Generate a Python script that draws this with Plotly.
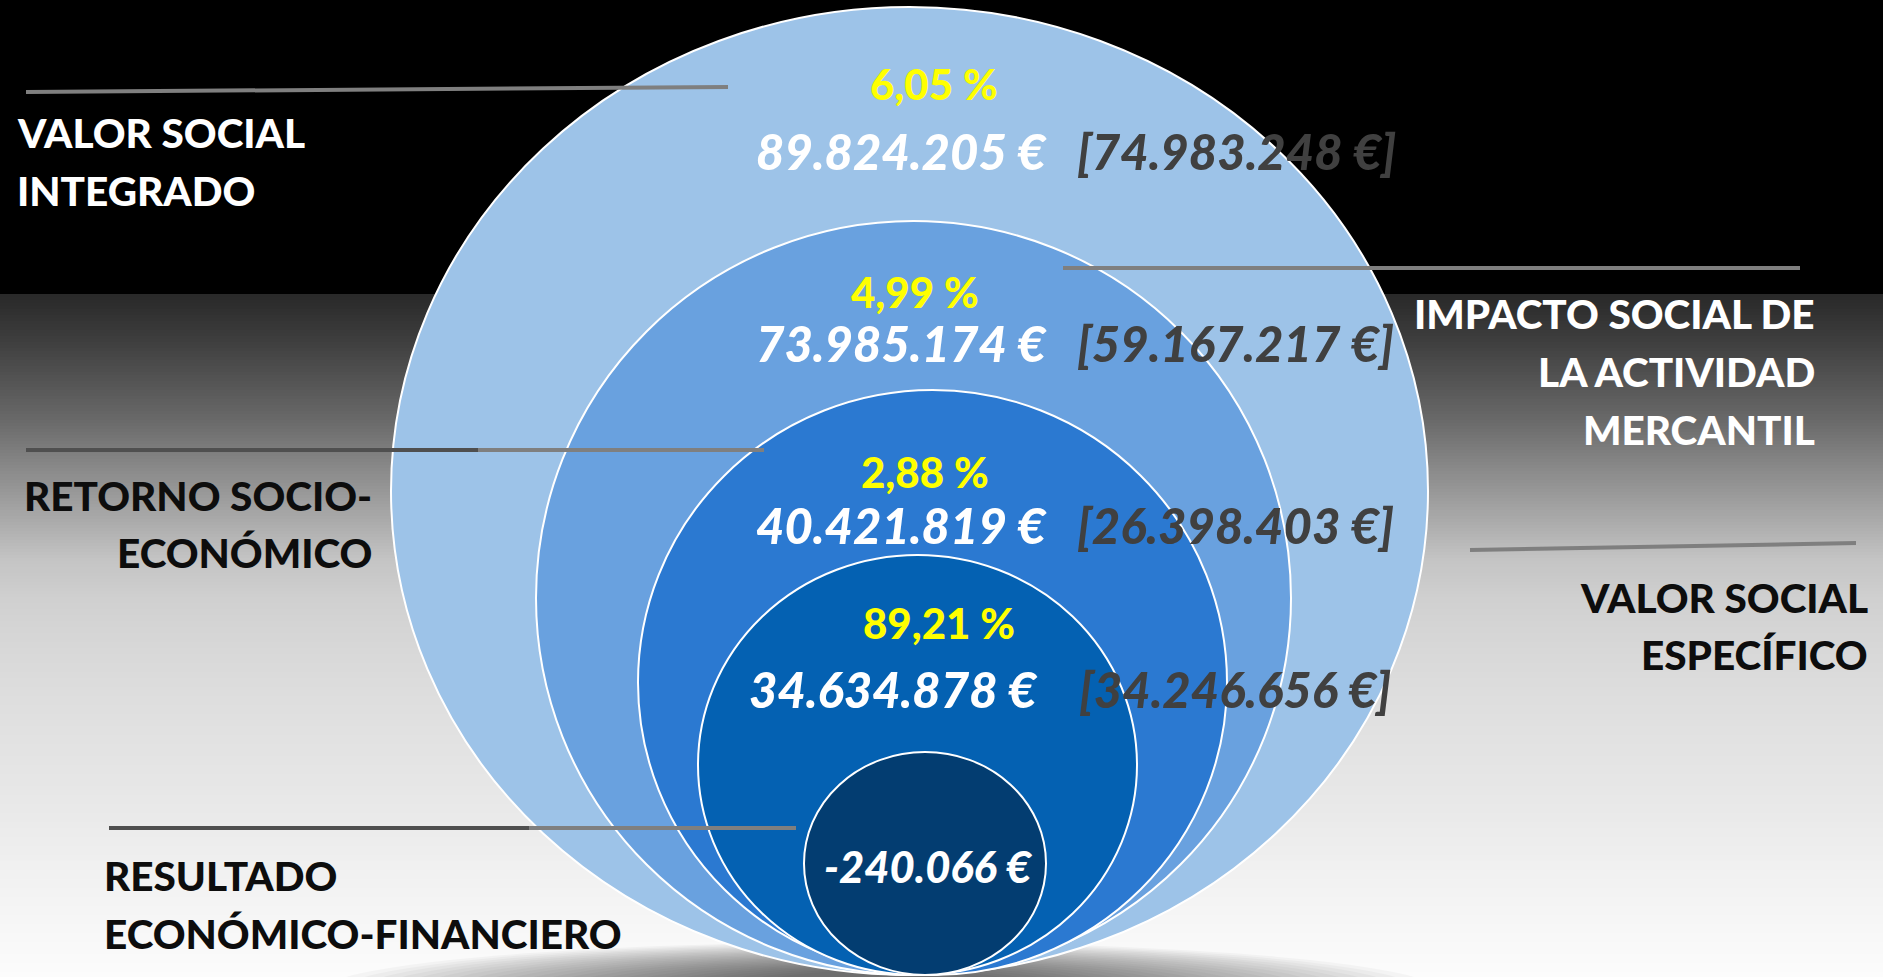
import plotly.graph_objects as go

# ---------------- DATA ----------------
level_names = [
    ["VALOR SOCIAL", "INTEGRADO"],
    ["IMPACTO SOCIAL DE", "LA ACTIVIDAD", "MERCANTIL"],
    ["RETORNO SOCIO-", "ECONÓMICO"],
    ["VALOR SOCIAL", "ESPECÍFICO"],
    ["RESULTADO", "ECONÓMICO-FINANCIERO"],
]
values_eur = [89824205, 73985174, 40421819, 34634878, -240066]
bracket_eur = [74983248, 59167217, 26398403, 34246656]
percentages = [6.05, 4.99, 2.88, 89.21]


def fmt_eur(v):
    s = f"{abs(v):,}".replace(",", ".")
    return ("-" if v < 0 else "") + s + " €"


def fmt_pct(p):
    return f"{p:.2f}".replace(".", ",") + " %"


# ---------------- LAYOUT / STYLE ----------------
W, H = 1883, 977
FONT = "Lato"
WEIGHT = 900

# nested ellipses (outer -> inner): x0, y0, x1, y1 in canvas coordinates
ellipse_boxes = [
    (391, 7, 1428, 975),
    (536, 221, 1291, 975),
    (638, 390, 1227, 975),
    (698, 555, 1137, 975),
    (804, 752, 1046, 975),
]
ellipse_colors = ["#9DC3E8", "#69A1DF", "#2B79D1", "#0461B2", "#033D71"]

# background gradient stops (y, grey level)
bg_stops = [(294, 40), (340, 62), (420, 105), (470, 138), (520, 170), (560, 196),
            (600, 208), (650, 216), (700, 222), (800, 232), (900, 244), (977, 252)]


def grey_at(y):
    for (y0, g0), (y1, g1) in zip(bg_stops[:-1], bg_stops[1:]):
        if y0 <= y <= y1:
            t = (y - y0) / (y1 - y0)
            return g0 + t * (g1 - g0)
    return bg_stops[-1][1]


shapes = []
# background gradient strips
step = 3
y = 294
while y < H:
    g = int(round(grey_at(y + step / 2)))
    shapes.append(dict(type="rect", xref="x", yref="y", x0=0, x1=W, y0=y, y1=min(y + step, H),
                       fillcolor=f"rgb({g},{g},{g})", line=dict(width=0)))
    y += step

# soft shadow under the ellipses
n_sh = 24
sh_cx = 880
for i in range(n_sh):
    t = i / (n_sh - 1)
    rx = 560 - t * 420
    ry = 50 - t * 28
    shapes.append(dict(type="circle", xref="x", yref="y", x0=sh_cx - rx, x1=sh_cx + rx,
                       y0=992 - ry, y1=992 + ry, fillcolor="black", opacity=0.03,
                       line=dict(width=0)))

# ellipses
for (x0, y0, x1, y1), c in zip(ellipse_boxes, ellipse_colors):
    shapes.append(dict(type="circle", xref="x", yref="y", x0=x0, y0=y0, x1=x1, y1=y1,
                       fillcolor=c, line=dict(color="white", width=2)))

# leader lines: (x0, y0, x1, y1, colour)
leader_lines = [
    (26, 92, 728, 87, "#7F7F7F"),
    (26, 450, 478, 450, "#4F4F4F"),
    (478, 450, 764, 450, "#7F7F7F"),
    (1063, 268, 1800, 268, "#7F7F7F"),
    (1470, 550, 1856, 543, "#7F7F7F"),
    (109, 828, 529, 828, "#4F4F4F"),
    (529, 828, 796, 828, "#7F7F7F"),
]
for x0, y0, x1, y1, c in leader_lines:
    shapes.append(dict(type="line", xref="x", yref="y", x0=x0, y0=y0, x1=x1, y1=y1,
                       line=dict(color=c, width=4)))

annotations = []


def add_text(text, x, y, size, color, xanchor="center", italic=False):
    t = f"<i>{text}</i>" if italic else text
    annotations.append(dict(text=t, x=x, y=y, xref="x", yref="y", showarrow=False,
                            xanchor=xanchor, yanchor="middle",
                            font=dict(family=FONT, size=size, color=color, weight=WEIGHT)))


# category labels: anchor x, line centres y, alignment, colour
label_pos = [
    (15, [132, 190], "left", "#FFFFFF"),
    (1817, [313, 371, 429], "right", "#FFFFFF"),
    (374, [495, 552], "right", "#0D0D0D"),
    (1870, [597, 654], "right", "#0D0D0D"),
    (102, [875, 933], "left", "#0D0D0D"),
]
LABEL_SIZE = 40.5
for lines, (lx, ys, anc, col) in zip(level_names, label_pos):
    for txt, ly in zip(lines, ys):
        add_text(txt, lx, ly, LABEL_SIZE, col, xanchor=anc)

# percentages
pct_pos = [(934, 84), (915, 292), (925, 472), (939, 623)]
for p, (px, py) in zip(percentages, pct_pos):
    add_text(fmt_pct(p), px, py, 42, "#FFFF00")

# euro values
val_pos = [(1049, 151, "right"), (1049, 343, "right"), (1049, 525, "right"),
           (1040, 689, "right"), (928, 866, "center")]
val_size = [49, 49, 49, 49, 43.5]
for v, (vx, vy, anc), sz in zip(values_eur, val_pos, val_size):
    add_text(fmt_eur(v), vx, vy, sz, "#FFFFFF", xanchor=anc, italic=True)

# bracketed values
br_pos = [(1075, 151), (1075, 343), (1075, 525), (1077, 689)]
for v, (bx, by) in zip(bracket_eur, br_pos):
    add_text("[" + fmt_eur(v) + "]", bx, by, 49, "#404040", xanchor="left", italic=True)

fig = go.Figure()
fig.update_layout(
    width=W, height=H,
    margin=dict(l=0, r=0, t=0, b=0),
    paper_bgcolor="black", plot_bgcolor="black",
    xaxis=dict(range=[0, W], visible=False, fixedrange=True),
    yaxis=dict(range=[H, 0], visible=False, fixedrange=True),
    shapes=shapes,
    annotations=annotations,
    showlegend=False,
)

fig.write_html("out.html", config={"displayModeBar": False},
               post_script="document.body.style.margin='0';document.body.style.overflow='hidden';")
